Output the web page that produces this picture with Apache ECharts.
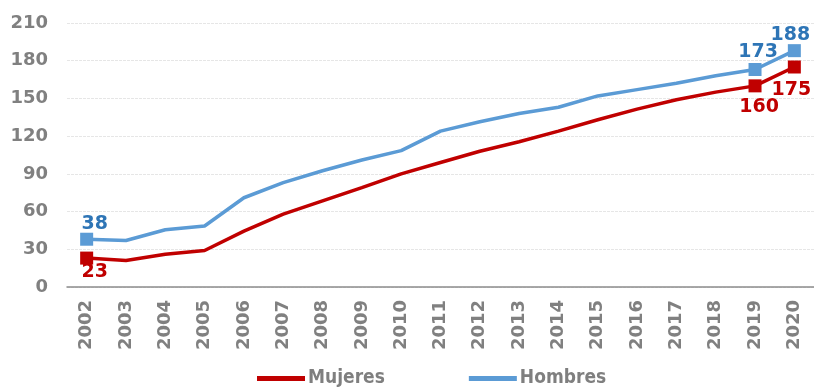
<!DOCTYPE html>
<html>
<head>
<meta charset="utf-8">
<script src="https://cdn.jsdelivr.net/npm/echarts@6/dist/echarts.min.js"></script>
<style>
html,body{margin:0;padding:0;background:#fff;}
#chart{width:814px;height:387px;}
</style>
</head>
<body>
<div id="chart"></div>
<script>
// Years on the horizontal axis
const years = ['2002','2003','2004','2005','2006','2007','2008','2009','2010','2011',
               '2012','2013','2014','2015','2016','2017','2018','2019','2020'];
// Series values
const mujeres = [23, 21, 26, 29, 44.5, 58, 68.5, 79, 90, 99, 108, 115.5, 124, 133, 141.5, 149, 155, 160, 175];
const hombres = [38, 37, 45.5, 48.5, 71, 83, 92.5, 101, 108.5, 124, 131.5, 138, 143, 152, 157, 162, 168, 173, 188];
// Points that carry a marker and value label
const markedPoints = [0, 17, 18];
// Label placement per marked point
const mujeresLabelPos = {0: 'bottom', 17: 'bottom', 18: 'bottom'};
const hombresLabelPos = {0: 'top', 17: 'top', 18: 'top'};
const yTicks = [0, 30, 60, 90, 120, 150, 180, 210];

const labelFont = 'DejaVu Sans';

function buildData(values, color, labelColor, posMap, offsets) {
  return values.map((v, i) => {
    if (markedPoints.indexOf(i) >= 0) {
      return {
        value: v,
        symbol: 'rect',
        symbolSize: 13,
        itemStyle: {color: color},
        label: {
          show: true,
          position: posMap[i],
          offset: offsets[i] || [0, 0],
          formatter: String(Math.round(v)),
          color: labelColor,
          fontFamily: labelFont,
          fontWeight: 'bold',
          fontSize: 19
        }
      };
    }
    return {value: v, symbol: 'none'};
  });
}

const chart = echarts.init(document.getElementById('chart'), null, {renderer: 'canvas'});
chart.setOption({
  animation: false,
  backgroundColor: '#ffffff',
  grid: {left: 67, top: 23, width: 749, bottom: 100, containLabel: false},
  legend: {
    left: 252,
    top: 364,
    itemWidth: 48,
    itemHeight: 5,
    itemGap: 84,
    icon: 'rect',
    textStyle: {
      fontFamily: 'DejaVu Sans Condensed',
      fontWeight: 'bold',
      fontSize: 19,
      color: '#7f7f7f',
      padding: [0, 0, 0, -2]
    },
    data: ['Mujeres', 'Hombres']
  },
  xAxis: {
    type: 'category',
    data: years,
    boundaryGap: true,
    axisLine: {show: true, lineStyle: {color: '#8c8c8c', width: 1.5}},
    axisTick: {show: false},
    axisLabel: {
      rotate: 90,
      margin: 13,
      color: '#808080',
      fontFamily: labelFont,
      fontWeight: 'bold',
      fontSize: 18
    },
    splitLine: {show: false}
  },
  yAxis: {
    type: 'value',
    min: yTicks[0],
    max: yTicks[yTicks.length - 1],
    interval: 30,
    axisLine: {show: false},
    axisTick: {show: false},
    axisLabel: {
      margin: 19,
      color: '#808080',
      fontFamily: labelFont,
      fontWeight: 'bold',
      fontSize: 18
    },
    splitLine: {show: true, lineStyle: {color: '#e6e6e6', width: 1, type: [3, 1]}}
  },
  series: [
    {
      name: 'Mujeres',
      type: 'line',
      z: 3,
      color: '#c00000',
      lineStyle: {color: '#c00000', width: 3.5},
      data: buildData(mujeres, '#c00000', '#c00000', mujeresLabelPos, {0: [8, -7], 17: [4, 0], 18: [-3, 2]})
    },
    {
      name: 'Hombres',
      type: 'line',
      z: 2,
      color: '#5b9bd5',
      lineStyle: {color: '#5b9bd5', width: 3.5},
      data: buildData(hombres, '#5b9bd5', '#2e75b6', hombresLabelPos, {0: [8, 6], 17: [3, 4], 18: [-4, 5]})
    }
  ]
});
</script>
</body>
</html>
